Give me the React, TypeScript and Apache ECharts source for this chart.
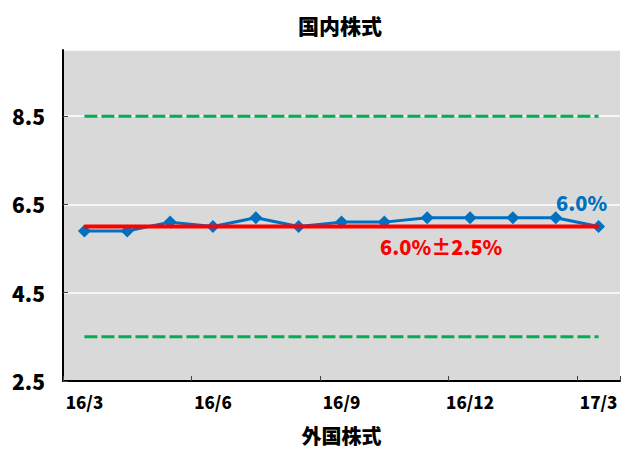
import React, { useEffect, useRef } from "react";
import * as echarts from "echarts";

const categories = ["16/3", "16/4", "16/5", "16/6", "16/7", "16/8", "16/9", "16/10", "16/11", "16/12", "17/1", "17/2", "17/3"];
const actual = [5.9, 5.9, 6.1, 6.0, 6.2, 6.0, 6.1, 6.1, 6.2, 6.2, 6.2, 6.2, 6.0];
const target = [6.0, 6.0, 6.0, 6.0, 6.0, 6.0, 6.0, 6.0, 6.0, 6.0, 6.0, 6.0, 6.0];
const upper = [8.5, 8.5, 8.5, 8.5, 8.5, 8.5, 8.5, 8.5, 8.5, 8.5, 8.5, 8.5, 8.5];
const lower = [3.5, 3.5, 3.5, 3.5, 3.5, 3.5, 3.5, 3.5, 3.5, 3.5, 3.5, 3.5, 3.5];
const yTicks = [2.5, 4.5, 6.5, 8.5];
const titleText = "国内株式";
const xName = "外国株式";
const bandLabel = "6.0%±2.5%";

const FONT = "'Noto Sans CJK JP', 'Noto Sans', sans-serif";

export default function App() {
  const ref = useRef<HTMLDivElement>(null);
  useEffect(() => {
    if (!ref.current) return;
    const chart = echarts.init(ref.current, null, { renderer: "svg" });
    const last = actual.length - 1;
    const labelIdx = 8;
    chart.setOption({
      animation: false,
      backgroundColor: "#ffffff",
      title: {
        text: titleText,
        left: 340,
        top: 14,
        padding: 0,
        textAlign: "center",
        textStyle: { fontFamily: FONT, fontSize: 21, fontWeight: 900, color: "#000" },
      },
      grid: {
        left: 63,
        right: 2,
        top: 50,
        bottom: 67,
        show: true,
        backgroundColor: "#d9d9d9",
        borderWidth: 0,
        containLabel: false,
      },
      xAxis: {
        type: "category",
        data: categories,
        boundaryGap: true,
        name: xName,
        nameLocation: "middle",
        nameGap: 44,
        nameTextStyle: { fontFamily: FONT, fontSize: 20, fontWeight: 900, color: "#000" },
        axisLine: { show: true, lineStyle: { color: "#000", width: 2 } },
        axisTick: { show: true, inside: true, length: 5, interval: 2, lineStyle: { color: "#404040", width: 1 } },
        axisLabel: {
          interval: 2,
          margin: 12,
          fontFamily: FONT,
          fontSize: 17,
          fontWeight: 900,
          color: "#000",
        },
        splitLine: { show: false },
      },
      yAxis: {
        type: "value",
        min: 2.5,
        max: 10,
        interval: 2,
        axisLine: { show: true, lineStyle: { color: "#000", width: 2 } },
        axisTick: { show: true, inside: true, length: 5, lineStyle: { color: "#404040", width: 1 } },
        axisLabel: {
          showMaxLabel: false,
          margin: 18,
          fontFamily: FONT,
          fontSize: 21,
          fontWeight: 900,
          color: "#000",
          formatter: (v: number) => (yTicks.includes(v) ? v.toFixed(1) : ""),
        },
        splitLine: { show: true, lineStyle: { color: "#ffffff", width: 1.5 } },
      },
      series: [
        {
          type: "line",
          data: upper,
          symbol: "none",
          lineStyle: { color: "#00b050", width: 3, type: [13, 4] },
          z: 2,
        },
        {
          type: "line",
          data: lower,
          symbol: "none",
          lineStyle: { color: "#00b050", width: 3, type: [13, 4] },
          z: 2,
        },
        {
          type: "line",
          data: actual.map((v, i) =>
            i === last
              ? {
                  value: v,
                  label: {
                    show: true,
                    position: "top",
                    offset: [-17, -3],
                    formatter: (p: any) => `${Number(p.value).toFixed(1)}%`,
                    fontFamily: FONT,
                    fontSize: 20,
                    fontWeight: 900,
                    color: "#0070c0",
                  },
                }
              : v
          ),
          symbol: "diamond",
          symbolSize: 13,
          itemStyle: { color: "#0070c0" },
          lineStyle: { color: "#0070c0", width: 3 },
          z: 3,
        },
        {
          type: "line",
          data: target.map((v, i) =>
            i === labelIdx
              ? {
                  value: v,
                  label: {
                    show: true,
                    position: "bottom",
                    offset: [14, 4],
                    formatter: bandLabel,
                    fontFamily: FONT,
                    fontSize: 20,
                    fontWeight: 900,
                    color: "#ff0000",
                  },
                }
              : v
          ),
          symbol: "circle",
          symbolSize: 2,
          showSymbol: true,
          itemStyle: { color: "#ff0000" },
          lineStyle: { color: "#ff0000", width: 4 },
          z: 4,
        },
      ],
    });
    return () => chart.dispose();
  }, []);
  return <div ref={ref} style={{ position: "fixed", left: 0, top: 0, width: 622, height: 450 }} />;
}
